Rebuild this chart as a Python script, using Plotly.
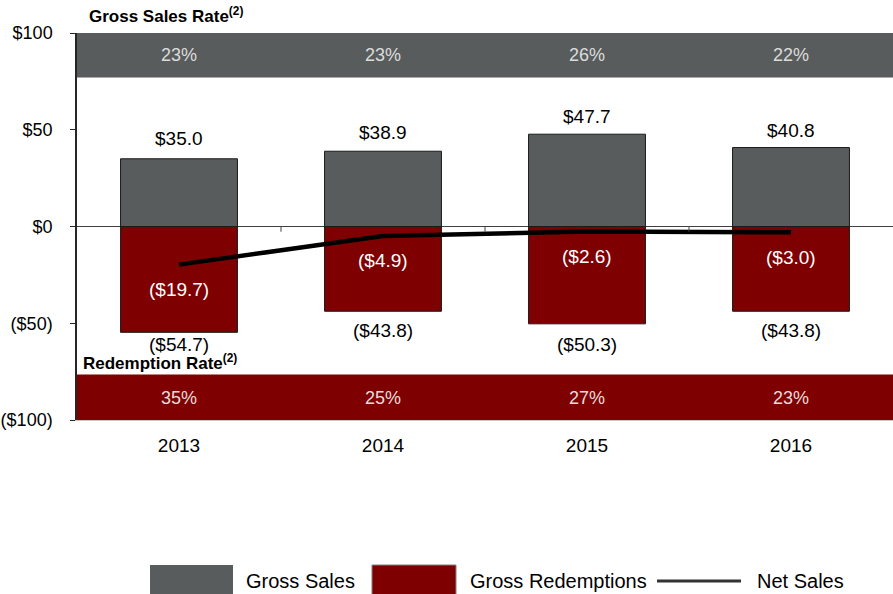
import plotly.graph_objects as go

years = ["2013", "2014", "2015", "2016"]
gross_sales = [35.0, 38.9, 47.7, 40.8]
gross_redemptions = [-54.7, -43.8, -50.3, -43.8]
net_sales = [-19.7, -4.9, -2.6, -3.0]
gross_sales_rate = ["23%", "23%", "26%", "22%"]
redemption_rate = ["35%", "25%", "27%", "23%"]
y_tickvals = [100, 50, 0, -50, -100]
y_ticktext = ["$100", "$50", "$0", "($50)", "($100)"]

GRAY = "#585c5c"
RED = "#7f0000"
FONT = "Liberation Sans, Arial, sans-serif"

W, H = 893, 594
ML, MR, MT, MB = 77, 0, 33, 174
PW = W - ML - MR
PH = H - MT - MB


def px(x):
    return (x - ML) / PW


def py(y):
    return (H - MB - y) / PH


def money(v):
    return f"(${abs(v):.1f})" if v < 0 else f"${v:.1f}"


fig = go.Figure()
fig.add_trace(go.Bar(x=years, y=gross_sales, name="Gross Sales",
                     marker=dict(color=GRAY, line=dict(color="#1a1a1a", width=1)),
                     width=0.573, showlegend=False))
fig.add_trace(go.Bar(x=years, y=gross_redemptions, name="Gross Redemptions",
                     marker=dict(color=RED, line=dict(color="#1a1a1a", width=1)),
                     width=0.573, showlegend=False))
fig.add_trace(go.Scatter(x=years, y=net_sales, mode="lines", name="Net Sales",
                         line=dict(color="black", width=4.5), showlegend=False))

shapes = []
annotations = []

# rate bands
shapes.append(dict(type="rect", xref="paper", yref="y", x0=0, x1=1, y0=77, y1=100,
                   fillcolor=GRAY, line=dict(width=0), layer="below"))
shapes.append(dict(type="rect", xref="paper", yref="y", x0=0, x1=1, y0=-100, y1=-76.5,
                   fillcolor=RED, line=dict(width=0), layer="below"))

for i, yr in enumerate(years):
    annotations.append(dict(x=i, y=88.5, text=gross_sales_rate[i], showarrow=False,
                            font=dict(family=FONT, size=18, color="#dcdcdc")))
    annotations.append(dict(x=i, y=-88.5, text=redemption_rate[i], showarrow=False,
                            font=dict(family=FONT, size=18, color="#e8dcdc")))

gross_shift = [20, 19, 18, 17]
red_shift = [-12, -19, -21, -19]
for i, yr in enumerate(years):
    annotations.append(dict(x=i, y=gross_sales[i], text=money(gross_sales[i]), showarrow=False,
                            yshift=gross_shift[i], font=dict(family=FONT, size=19, color="black")))
    annotations.append(dict(x=i, y=gross_redemptions[i], text=money(gross_redemptions[i]),
                            showarrow=False, yshift=red_shift[i],
                            font=dict(family=FONT, size=19, color="black")))
    annotations.append(dict(x=i, y=net_sales[i], text=money(net_sales[i]), showarrow=False,
                            yshift=-25, font=dict(family=FONT, size=19, color="white")))

# small ticks on zero line between categories
for xv in [0.5, 1.5, 2.5]:
    shapes.append(dict(type="line", xref="x", yref="y", x0=xv, x1=xv, y0=0, y1=-2.7,
                       line=dict(color="#404040", width=1)))

# titles
annotations.append(dict(xref="paper", yref="paper", x=px(87), y=py(15), xanchor="left",
                        yanchor="middle", showarrow=False,
                        text="<b>Gross Sales Rate<sup>(2)</sup></b>",
                        font=dict(family=FONT, size=17, color="black")))
annotations.append(dict(xref="paper", yref="paper", x=px(81), y=py(362), xanchor="left",
                        yanchor="middle", showarrow=False,
                        text="<b>Redemption Rate<sup>(2)</sup></b>",
                        font=dict(family=FONT, size=17, color="black")))

# custom legend
LEG_Y = 581
shapes.append(dict(type="rect", xref="paper", yref="paper", x0=px(150), x1=px(233),
                   y0=py(596), y1=py(565), fillcolor=GRAY, line=dict(width=0)))
shapes.append(dict(type="rect", xref="paper", yref="paper", x0=px(372), x1=px(456),
                   y0=py(596), y1=py(565), fillcolor=RED, line=dict(color="#808080", width=1)))
shapes.append(dict(type="line", xref="paper", yref="paper", x0=px(657), x1=px(741),
                   y0=py(LEG_Y), y1=py(LEG_Y), line=dict(color="#333333", width=3)))
for label, xpos in [("Gross Sales", 244), ("Gross Redemptions", 468), ("Net Sales", 755)]:
    annotations.append(dict(xref="paper", yref="paper", x=px(xpos), y=py(LEG_Y),
                            xanchor="left", yanchor="middle", showarrow=False, text=label,
                            font=dict(family=FONT, size=20, color="black")))

fig.update_layout(
    width=W, height=H, autosize=False,
    margin=dict(l=ML, r=MR, t=MT, b=MB),
    paper_bgcolor="white", plot_bgcolor="white",
    barmode="relative",
    showlegend=False,
    font=dict(family=FONT, size=19, color="black"),
    shapes=shapes, annotations=annotations,
    xaxis=dict(type="category", range=[-0.5, 3.5], showgrid=False, ticks="",
               showline=True, linecolor="#c8c8c8", linewidth=1,
               tickfont=dict(family=FONT, size=19, color="black"), ticklabelstandoff=8),
    yaxis=dict(range=[-100, 100], tickvals=y_tickvals, ticktext=y_ticktext,
               showgrid=False, showline=True, linecolor="#262626", linewidth=1.5,
               ticks="outside", ticklen=5, tickcolor="#262626", tickwidth=1,
               zeroline=True, zerolinecolor="#404040", zerolinewidth=1,
               tickfont=dict(family=FONT, size=18, color="black"), ticklabelstandoff=14),
)

fig.write_html("out.html", config={"displayModeBar": False},
               post_script="document.body.style.margin='0';document.body.style.overflow='hidden';")
